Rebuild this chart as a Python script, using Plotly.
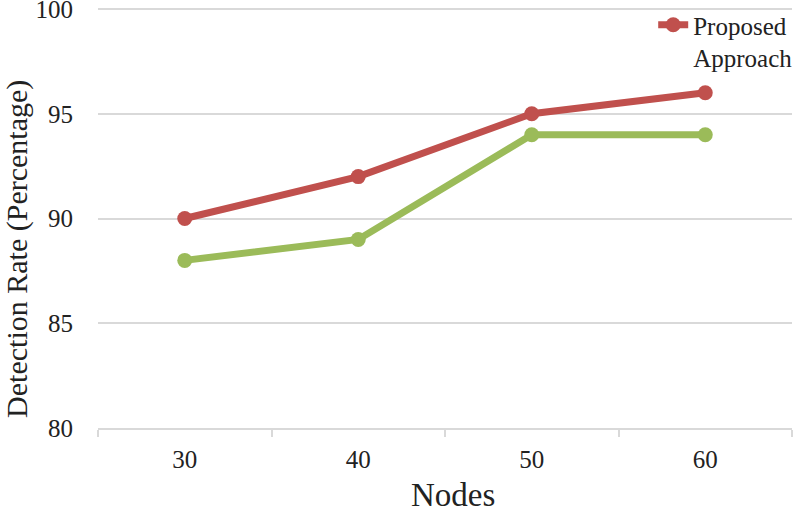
import plotly.graph_objects as go

nodes = ["30", "40", "50", "60"]
proposed = [90, 92, 95, 96]
existing = [88, 89, 94, 94]
y_ticks = [80, 85, 90, 95, 100]

font_family = "Liberation Serif"
grid = "#d9d9d9"

fig = go.Figure()
fig.add_trace(go.Scatter(
    x=nodes, y=existing, mode="lines+markers", name="Existing",
    line=dict(color="#9BBB59", width=7), marker=dict(size=15, color="#9BBB59"),
    showlegend=False))
fig.add_trace(go.Scatter(
    x=nodes, y=proposed, mode="lines+markers", name="Proposed<br>Approach",
    line=dict(color="#C0504D", width=7), marker=dict(size=15, color="#C0504D")))

fig.update_layout(
    width=800, height=517,
    margin=dict(l=98, r=3, t=2, b=89),
    paper_bgcolor="white", plot_bgcolor="white",
    font=dict(family=font_family, size=25, color="#222222"),
    legend=dict(x=0.80, y=1.0, xanchor="left", yanchor="top", valign="top",
                bgcolor="rgba(0,0,0,0)", font=dict(size=25)),
    xaxis=dict(type="category", range=[-0.5, 3.5], automargin=False,
               showgrid=False, showline=True, linecolor=grid, linewidth=2,
               ticks="outside", tickson="boundaries", ticklen=7, tickcolor=grid,
               tickwidth=2, ticklabelstandoff=8),
    yaxis=dict(range=[80, 100.334], tickvals=y_ticks, automargin=False,
               showgrid=True, gridcolor=grid, gridwidth=2, ticklabeloverflow="allow",
               showline=False, zeroline=False, ticks="", ticklabelstandoff=24),
    annotations=[
        dict(text="Detection Rate (Percentage)", textangle=-90,
             xref="paper", yref="paper", x=-0.117, y=0.42,
             xanchor="center", yanchor="middle", showarrow=False,
             font=dict(size=30)),
        dict(text="Nodes", xref="paper", yref="paper", x=0.512, y=-0.158,
             xanchor="center", yanchor="middle", showarrow=False,
             font=dict(size=33)),
    ],
)

fig.write_html("out.html", config={"displayModeBar": False},
               post_script="document.body.style.margin='0';")
